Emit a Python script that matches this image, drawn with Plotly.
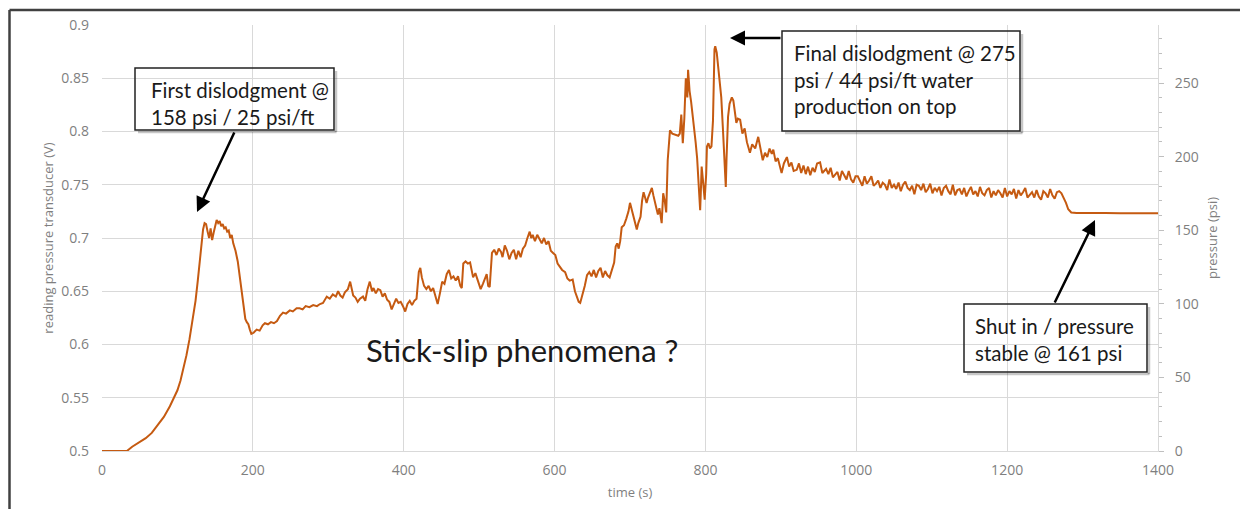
import plotly.graph_objects as go

# ---------------- data (time s, transducer reading V) ----------------
rise_phase = [(0, .500), (33, .500), (40, .504), (50, .508), (58, .512), (66, .517), (75, .525),
              (82, .532), (90, .542), (96, .551), (100, .557), (104, .566), (108, .577), (112, .590),
              (116, .605), (120, .622), (124, .641), (127, .660), (130, .682), (132, .697), (134, .708),
              (136, .714), (138, .713), (140, .706), (142, .700), (144, .709), (146, .698), (148, .705),
              (150, .713), (152, .717), (154, .714), (156, .716), (158, .711), (160, .713), (162, .709),
              (164, .710), (166, .706), (168, .707), (170, .700), (172, .703), (174, .695), (177, .688),
              (180, .678), (183, .662), (186, .645), (188, .633), (190, .624), (192, .621), (194, .619),
              (196, .614), (198, .610)]

stick_slip_phase = [(201, .611), (205, .614), (209, .613), (213, .618), (216, .620), (220, .619), (224, .621),
                    (228, .620), (232, .622), (236, .627), (240, .630), (244, .629), (249, .632), (253, .631),
                    (258, .634), (262, .634), (266, .633), (270, .636), (275, .635), (280, .637), (285, .636),
                    (289, .638), (293, .639), (296, .642), (298, .645), (302, .643), (306, .647), (310, .645),
                    (313, .650), (316, .646), (319, .644), (322, .649), (326, .652), (329, .659), (331, .651),
                    (333, .646), (336, .644), (339, .640), (342, .643), (346, .645), (349, .641), (352, .652),
                    (355, .659), (358, .650), (360, .653), (363, .648), (366, .652), (369, .651), (372, .645),
                    (375, .648), (378, .642), (381, .640), (384, .633), (387, .638), (390, .643), (393, .639),
                    (396, .640), (399, .636), (402, .631), (405, .638), (408, .641), (411, .637), (414, .641),
                    (417, .643), (420, .668), (422, .672), (424, .663), (427, .655), (430, .652), (433, .655),
                    (436, .650), (439, .653), (442, .645), (445, .638), (448, .648), (451, .659), (454, .657),
                    (457, .666), (460, .670), (463, .662), (466, .664), (469, .660), (472, .664), (475, .655),
                    (477, .653), (479, .676), (482, .678), (485, .676), (488, .677), (490, .668), (492, .663),
                    (495, .667), (498, .660), (502, .652), (505, .657), (508, .663), (510, .666), (512, .655),
                    (514, .654), (517, .686), (520, .689), (523, .684), (526, .690), (529, .687), (531, .682),
                    (534, .693), (537, .688), (540, .680), (543, .686), (546, .689), (549, .680), (552, .688),
                    (555, .682), (558, .690), (561, .693), (564, .700), (567, .706), (569, .700), (571, .703),
                    (574, .697), (577, .703), (580, .699), (583, .695), (586, .700), (589, .694), (592, .697),
                    (595, .688), (598, .686), (601, .684), (604, .676), (607, .673), (610, .670), (614, .668),
                    (617, .662), (620, .660), (624, .661), (627, .650), (630, .644), (632, .640), (634, .639),
                    (637, .646), (640, .655), (643, .665), (646, .668), (649, .664), (652, .670), (655, .663),
                    (658, .669), (661, .672), (664, .663), (667, .669), (670, .665), (673, .663), (676, .670),
                    (679, .677), (681, .692), (683, .695), (685, .690), (687, .697), (689, .710)]

dislodgment_phase = [(692, .712), (695, .718), (698, .725), (700, .733), (702, .727), (704, .722), (706, .716),
                     (709, .708), (711, .714), (714, .720), (716, .735), (718, .743), (720, .738), (722, .733),
                     (724, .738), (726, .742), (729, .747), (731, .740), (733, .735), (735, .728), (737, .722),
                     (739, .728), (742, .714), (743, .730), (744, .742), (746, .735), (748, .724), (750, .773),
                     (753, .801), (756, .798), (760, .797), (764, .796), (766, .798), (768, .816), (770, .789),
                     (772, .812), (774, .850), (776, .832), (777, .858), (779, .838), (781, .828), (783, .816),
                     (785, .808), (787, .790), (789, .775), (790, .764), (792, .740), (793, .726), (794, .745),
                     (795, .767), (797, .752), (799, .736), (801, .760), (802, .786), (804, .789), (806, .784),
                     (808, .786), (810, .810), (812, .877), (813, .880), (815, .874), (817, .858), (819, .845),
                     (821, .832), (823, .805), (825, .775), (827, .748), (828, .775), (830, .814), (832, .826),
                     (835, .832), (837, .829), (839, .820), (841, .808), (843, .812), (846, .811), (849, .798),
                     (852, .803), (855, .790), (859, .780), (862, .788), (866, .784), (870, .795), (873, .782),
                     (876, .773), (879, .780), (882, .776), (885, .784), (888, .779), (890, .783), (893, .772),
                     (896, .775), (899, .765), (901, .761), (904, .770), (908, .776), (911, .767), (914, .771),
                     (917, .763), (921, .764), (924, .770), (927, .761), (930, .768), (933, .760), (936, .767),
                     (939, .759), (942, .766), (945, .762), (948, .770), (952, .771), (955, .761), (958, .764)]

decline_phase = [(960, .765), (963, .760), (966, .766), (969, .757), (972, .760), (975, .762), (978, .754),
                 (981, .763), (984, .759), (987, .755), (990, .763), (993, .755), (996, .752), (999, .758),
                 (1002, .758), (1005, .754), (1008, .749), (1011, .758), (1014, .751), (1017, .754),
                 (1020, .758), (1023, .749), (1026, .751), (1029, .754), (1032, .747), (1035, .752),
                 (1038, .750), (1041, .745), (1044, .755), (1047, .747), (1050, .750), (1053, .746),
                 (1056, .752), (1059, .744), (1062, .750), (1065, .753), (1068, .747), (1071, .745),
                 (1074, .749), (1077, .741), (1080, .750), (1083, .749), (1086, .745), (1089, .751),
                 (1092, .743), (1095, .746), (1098, .751), (1101, .742), (1104, .747), (1107, .744),
                 (1110, .748), (1113, .740), (1116, .747), (1119, .749), (1122, .744), (1125, .741),
                 (1128, .750), (1131, .740), (1134, .745), (1137, .746), (1140, .741), (1143, .747),
                 (1146, .739), (1149, .744), (1152, .748), (1155, .741), (1158, .744), (1161, .739),
                 (1164, .748), (1167, .742), (1170, .740), (1173, .745), (1176, .747), (1179, .738),
                 (1182, .744), (1185, .740), (1188, .745), (1191, .742), (1194, .738), (1197, .747),
                 (1200, .739), (1203, .744), (1206, .741), (1209, .746), (1212, .737), (1215, .745),
                 (1218, .740), (1221, .743), (1224, .747), (1227, .738), (1230, .741), (1233, .743),
                 (1236, .738), (1239, .745), (1242, .739), (1245, .736), (1248, .744), (1251, .742),
                 (1254, .738), (1257, .746), (1260, .740), (1263, .737), (1266, .743), (1269, .744),
                 (1272, .742), (1275, .738)]

shut_in_phase = [(1278, .733), (1281, .727), (1285, .7240), (1292, .7235), (1310, .7232), (1330, .7235),
                 (1350, .7233), (1370, .7235), (1400, .7233)]

x_ticks = [0, 200, 400, 600, 800, 1000, 1200, 1400]
y_ticks = [0.5, 0.55, 0.6, 0.65, 0.7, 0.75, 0.8, 0.85, 0.9]
psi_ticks = [0, 50, 100, 150, 200, 250]

# ---------------- figure ----------------
W, H = 1240, 509
L, R, T, B = 102, 1158, 25, 451   # plot-area pixel bounds

def X(px):
    return (px - L) / (R - L) * 1400

def Y(py):
    return 0.5 + (B - py) / (B - T) * 0.4

def PX(px):
    return (px - L) / (R - L)

def PY(py):
    return (B - py) / (B - T)

points = rise_phase + stick_slip_phase + dislodgment_phase + decline_phase + shut_in_phase
t = [p[0] for p in points]
v = [p[1] for p in points]

fig = go.Figure()
fig.add_trace(go.Scatter(x=t, y=v, mode="lines", line=dict(color="#C55A11", width=2),
                         showlegend=False, hoverinfo="skip"))

grid = "#d9d9d9"
tickfont = dict(family="Open Sans", size=14, color="#7f7f7f")
titlefont = dict(family="Open Sans", size=13, color="#7f7f7f")

fig.update_layout(
    width=W, height=H, autosize=False,
    margin=dict(l=L, r=W - R, t=T, b=H - B, pad=0),
    paper_bgcolor="white", plot_bgcolor="white",
    showlegend=False,
    xaxis=dict(range=[0, 1400], tickvals=x_ticks, ticktext=[str(x) for x in x_ticks],
               showgrid=True, gridcolor=grid, gridwidth=1, zeroline=False,
               showline=True, linecolor=grid, linewidth=1, ticks="",
               tickfont=tickfont, ticklabelstandoff=6,
               title=dict(text="time (s)", font=titlefont, standoff=10)),
    yaxis=dict(range=[0.5, 0.9], tickvals=y_ticks, ticktext=[f"{y:g}" for y in y_ticks],
               showgrid=True, gridcolor=grid, gridwidth=1, zeroline=False,
               showline=False, ticks="", tickfont=tickfont, ticklabelstandoff=12,
               title=dict(text="reading pressure transducer (V)", font=titlefont, standoff=4)),
    yaxis2=dict(range=[0, 289.4], overlaying="y", side="right", anchor="x",
                tickvals=psi_ticks, ticktext=[str(p) for p in psi_ticks],
                showgrid=False, zeroline=False, showline=True, linecolor=grid, linewidth=1,
                ticks="outside", ticklen=5, tickcolor="#bfbfbf",
                minor=dict(dtick=10, tick0=0, ticks="outside", ticklen=3, tickcolor="#bfbfbf", showgrid=False),
                tickfont=tickfont, ticklabelstandoff=8,
                title=dict(text="pressure (psi)", font=titlefont, standoff=10)),
)

# dummy trace so the secondary axis is rendered
fig.add_trace(go.Scatter(x=[None], y=[None], yaxis="y2", showlegend=False, hoverinfo="skip"))

shapes = []
# outer frame (top and left edges)
shapes.append(dict(type="line", xref="paper", yref="paper", x0=PX(9.5), x1=PX(1240), y0=PY(10), y1=PY(10),
                   line=dict(color="#404040", width=2.5)))
shapes.append(dict(type="line", xref="paper", yref="paper", x0=PX(9.5), x1=PX(9.5), y0=PY(10), y1=PY(509),
                   line=dict(color="#404040", width=2.5)))

boxes = [(135, 68, 334, 130), (782, 31, 1020, 131), (964, 304, 1147, 372)]
for (x0, y0, x1, y1) in boxes:
    # soft shadow along bottom and right edges
    shapes.append(dict(type="line", xref="paper", yref="paper",
                       x0=PX(x0 + 3), x1=PX(x1 + 2.5), y0=PY(y1 + 2), y1=PY(y1 + 2),
                       line=dict(color="rgba(0,0,0,0.22)", width=2.5), layer="above"))
    shapes.append(dict(type="line", xref="paper", yref="paper",
                       x0=PX(x1 + 2), x1=PX(x1 + 2), y0=PY(y0 + 3), y1=PY(y1 + 2),
                       line=dict(color="rgba(0,0,0,0.22)", width=2.5), layer="above"))
    shapes.append(dict(type="rect", xref="paper", yref="paper",
                       x0=PX(x0), x1=PX(x1), y0=PY(y0), y1=PY(y1),
                       line=dict(color="#222222", width=1.5), fillcolor="rgba(0,0,0,0)", layer="above"))
fig.update_layout(shapes=shapes)

afont = dict(family="Lato", size=20.5, color="#1a1a1a")
lines = [
    (149, 90, "First dislodgment @"),
    (149, 117, "158 psi / 25 psi/ft"),
    (792, 53, "Final dislodgment @ 275"),
    (792, 80, "psi / 44 psi/ft water"),
    (792, 106, "production on top"),
    (973, 326, "Shut in / pressure"),
    (973, 353, "stable @ 161 psi"),
]
for (px, py, txt) in lines:
    fig.add_annotation(x=PX(px), y=PY(py), xref="paper", yref="paper", text=txt, showarrow=False,
                       xanchor="left", yanchor="middle", font=afont)

fig.add_annotation(x=PX(522), y=PY(350), xref="paper", yref="paper", text="Stick-slip phenomena ?",
                   showarrow=False, xanchor="center", yanchor="middle",
                   font=dict(family="Lato", size=31, color="#1a1a1a"))

arrows = [((197, 212), (235, 131)), ((730, 38), (782, 38)), ((1095, 220), (1054, 304))]
for (hx, hy), (tx, ty) in arrows:
    fig.add_annotation(x=X(hx), y=Y(hy), xref="x", yref="y", ax=tx - hx, ay=ty - hy,
                       axref="pixel", ayref="pixel", text="", showarrow=True,
                       arrowhead=2, arrowsize=1.2, arrowwidth=2.5, arrowcolor="#000000", standoff=0)

fig.write_html("out.html")
